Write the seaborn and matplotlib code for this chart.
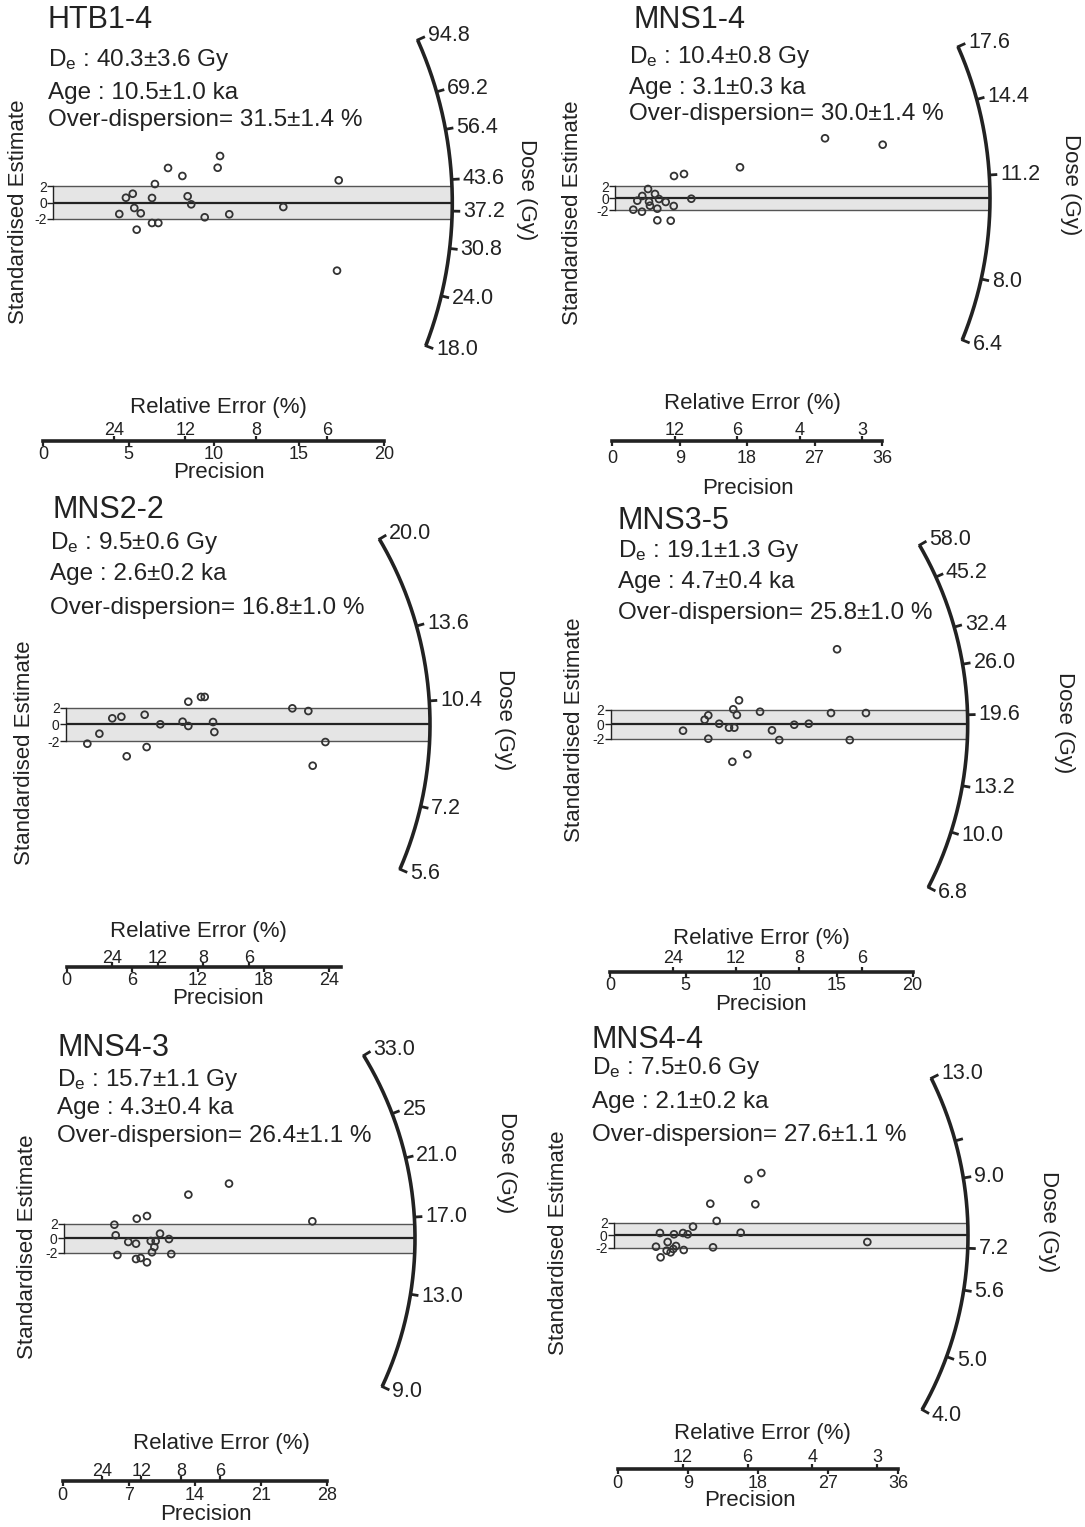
from matplotlib import pyplot as plt
import seaborn as sns
import pandas as pd
import numpy as np

# figure size in pixels, saved at dpi 100
FIG_W, FIG_H = 1085, 1527
INK = "#222222"

# ---------------- data ----------------
# precision (=100/relative error %) and standardised estimate of every aliquot

htb14_precision = [3.87, 4.26, 4.66, 4.75, 4.89, 5.13, 5.79, 5.79, 5.96, 6.16, 6.73,
				   7.57, 7.88, 8.09, 8.88, 9.64, 9.78, 10.32, 13.49, 16.74, 16.64]
htb14_z = [-1.39, 0.61, 1.10, -0.65, -3.31, -1.30, 0.58, -2.49, 2.29, -2.49, 4.26,
		   3.28, 0.79, -0.20, -1.79, 4.29, 5.73, -1.42, -0.53, 2.75, -8.34]
htb14_dose_ticks = [94.8, 69.2, 56.4, 43.6, 37.2, 30.8, 24.0, 18.0]
htb14_dose_labels = ["94.8", "69.2", "56.4", "43.6", "37.2", "30.8", "24.0", "18.0"]
htb14_central_dose = 38.8
htb14_precision_ticks = [0, 5, 10, 15, 20]
htb14_rel_error_ticks = [24, 12, 8, 6]
htb14_stats = ["40.3±3.6 Gy", "10.5±1.0 ka", "31.5±1.4 %"]

mns14_precision = [28.04, 35.74, 16.69, 7.88, 9.21, 4.41, 3.64, 2.98, 5.34, 5.87,
				   4.54, 4.67, 6.77, 7.84, 5.65, 2.44, 3.60, 10.19, 5.65, 7.44]
mns14_z = [10.12, 9.04, 5.23, 3.76, 4.10, 1.57, 0.39, -0.40, 0.73, -0.12,
		   -0.57, -1.25, -0.62, -1.30, -1.75, -1.92, -2.26, -0.07, -3.71, -3.78]
mns14_dose_ticks = [17.6, 14.4, 11.2, 8.0, 6.4]
mns14_dose_labels = ["17.6", "14.4", "11.2", "8.0", "6.4"]
mns14_central_dose = 10.4
mns14_precision_ticks = [0, 9, 18, 27, 36]
mns14_rel_error_ticks = [12, 6, 4, 3]
mns14_stats = ["10.4±0.8 Gy", "3.1±0.3 ka", "30.0±1.4 %"]

mns22_precision = [1.95, 3.05, 4.23, 5.06, 5.55, 7.19, 7.37, 8.62, 10.66, 11.18,
				   11.18, 12.34, 12.68, 13.44, 13.56, 20.69, 22.15, 23.71, 22.55]
mns22_z = [-2.31, -1.12, 0.71, 0.90, -3.81, 1.14, -2.71, 0.0, 0.31, 2.69,
		   -0.20, 3.26, 3.26, 0.27, -0.92, 1.90, 1.58, -2.11, -4.93]
mns22_dose_ticks = [20.0, 13.6, 10.4, 7.2, 5.6]
mns22_dose_labels = ["20.0", "13.6", "10.4", "7.2", "5.6"]
mns22_central_dose = 9.6
mns22_precision_ticks = [0, 6, 12, 18, 24]
mns22_rel_error_ticks = [24, 12, 8, 6]
mns22_stats = ["9.5±0.6 Gy", "2.6±0.2 ka", "16.8±1.0 %"]

mns35_precision = [14.96, 8.48, 8.10, 9.87, 6.45, 6.21, 8.34, 7.17, 7.82, 8.17, 4.78,
				   10.66, 12.13, 13.09, 14.56, 16.87, 6.45, 11.14, 15.80, 9.03, 8.04]
mns35_z = [10.45, 3.34, 2.09, 1.75, 1.25, 0.64, 1.30, 0.08, -0.47, -0.47, -0.89,
		   -0.84, -0.06, 0.08, 1.57, 1.57, -2.01, -2.19, -2.19, -4.18, -5.22]
mns35_dose_ticks = [58.0, 45.2, 32.4, 26.0, 19.6, 13.2, 10.0, 6.8]
mns35_dose_labels = ["58.0", "45.2", "32.4", "26.0", "19.6", "13.2", "10.0", "6.8"]
mns35_central_dose = 18.6
mns35_precision_ticks = [0, 5, 10, 15, 20]
mns35_rel_error_ticks = [24, 12, 8, 6]
mns35_stats = ["19.1±1.3 Gy", "4.7±0.4 ka", "25.8±1.0 %"]

mns43_precision = [17.46, 13.16, 8.78, 7.70, 5.33, 26.28, 5.47, 10.16, 6.80, 7.62,
				   9.18, 9.70, 11.11, 9.56, 9.31, 5.65, 11.35, 7.62, 8.11, 8.78]
mns43_z = [7.44, 5.94, 3.03, 2.67, 1.85, 2.31, 0.41, 0.63, -0.50, -0.73,
		   -0.37, -0.37, -0.10, -1.18, -1.90, -2.27, -2.14, -2.82, -2.68, -3.27]
mns43_dose_ticks = [33.0, 25.0, 21.0, 17.0, 13.0, 9.0]
mns43_dose_labels = ["33.0", "25", "21.0", "17.0", "13.0", "9.0"]
mns43_central_dose = 15.8
mns43_precision_ticks = [0, 7, 14, 21, 28]
mns43_rel_error_ticks = [24, 12, 8, 6]
mns43_stats = ["15.7±1.1 Gy", "4.3±0.4 ka", "26.4±1.1 %"]

mns44_precision = [18.91, 17.24, 12.36, 18.14, 13.18, 10.14, 5.90, 7.70, 8.86, 9.46, 16.26,
				   6.89, 5.39, 7.96, 7.61, 6.76, 7.27, 8.95, 12.71, 5.98, 32.52]
mns44_z = [9.84, 8.85, 4.99, 4.90, 2.27, 1.37, 0.36, 0.16, 0.36, 0.16, 0.41,
		   -1.06, -1.80, -1.69, -2.16, -2.43, -2.69, -2.32, -1.90, -3.48, -1.06]
# the tick between 13.0 and 9.0 carries no label in the original
mns44_dose_ticks = [13.0, 10.2, 9.0, 7.2, 6.3, 5.0, 4.0]
mns44_dose_labels = ["13.0", "", "9.0", "7.2", "5.6", "5.0", "4.0"]
mns44_central_dose = 7.5
mns44_precision_ticks = [0, 9, 18, 27, 36]
mns44_rel_error_ticks = [12, 6, 4, 3]
mns44_stats = ["7.5±0.6 Gy", "2.1±0.2 ka", "27.6±1.1 %"]

# ---------------- layout (pixels of the 1085x1527 canvas) ----------------
# ox, oy: origin of radial plot; sx, sy: px per unit; R: arc radius; k: arc scale
# ppad / rpad: label pads of the precision and relative error ticks
layouts = {
	"HTB1-4": dict(ox=53.3, oy=202.7, sx=17.05, sy=8.15, R=399, k=0.50,
				   bx=43.3, by=441, bmax=20, ppad=0, rpad=-2,
				   title=(48, 20), stats=(48, 60, 93, 120), ylab=(19, 212), dlab=(527, 190),
				   relab=(218, 408), plab=(219, 473)),
	"MNS1-4": dict(ox=615, oy=198.3, sx=7.49, sy=5.93, R=375, k=0.84,
				   bx=612.3, by=441, bmax=36, ppad=3, rpad=-2,
				   title=(633, 20), stats=(629, 57, 88, 114), ylab=(572, 213), dlab=(1070, 185),
				   relab=(752, 403), plab=(748, 489)),
	"MNS2-2": dict(ox=66, oy=724.3, sx=10.94, sy=8.4, R=364, k=0.805,
				   bx=66.7, by=967.3, bmax=25.1, ppad=0, rpad=-3.2,
				   title=(52, 510), stats=(50, 543, 574, 608), ylab=(25, 753), dlab=(505, 720),
				   relab=(198, 932), plab=(218, 999)),
	"MNS3-5": dict(ox=610.7, oy=724.3, sx=15.13, sy=7.18, R=357, k=0.51,
				   bx=610, by=971.7, bmax=20, ppad=0, rpad=-0.5,
				   title=(618, 521), stats=(618, 551, 582, 613), ylab=(574, 730), dlab=(1065, 723),
				   relab=(761, 938), plab=(761, 1004)),
	"MNS4-3": dict(ox=64, oy=1238.3, sx=9.45, sy=7.35, R=351, k=0.828,
				   bx=62.7, by=1481, bmax=28, ppad=0.7, rpad=-2.7,
				   title=(57, 1048), stats=(57, 1080, 1108, 1136), ylab=(28, 1247), dlab=(507, 1163),
				   relab=(221, 1443), plab=(206, 1514)),
	"MNS4-4": dict(ox=614, oy=1235.3, sx=7.79, sy=6.33, R=354, k=0.90,
				   bx=617.7, by=1469.3, bmax=36, ppad=0.7, rpad=-1.3,
				   title=(592, 1040), stats=(592, 1068, 1102, 1135), ylab=(559, 1243), dlab=(1048, 1222),
				   relab=(762, 1433), plab=(750, 1501)),
}


def fx(x):
	return x / FIG_W


def fy(y):
	return 1 - y / FIG_H


def draw_panel(fig, name, precision, z, dose_ticks, dose_labels, d0, prec_ticks, re_ticks, stats):
	lay = layouts[name]
	ox, oy, sx, sy, R, k = lay["ox"], lay["oy"], lay["sx"], lay["sy"], lay["R"], lay["k"]

	# radial plot axes: x = precision, y = standardised estimate
	ax = fig.add_axes([fx(ox), fy(oy + R), R / FIG_W, 2 * R / FIG_H])
	ax.set_xlim(0, R / sx)
	ax.set_ylim(-R / sy, R / sy)
	ax.patch.set_alpha(0)

	# +-2 band, reaching the arc
	x_band = np.sqrt(R ** 2 - (2 * sy) ** 2) / sx
	ax.fill_between([0, x_band], -2, 2, color="#e5e5e5", lw=0, zorder=0)
	ax.hlines([-2, 2], 0, x_band, color="#555555", lw=1.0, zorder=1)
	ax.hlines(0, 0, R / sx, color=INK, lw=1.6, zorder=1)

	df = pd.DataFrame({"precision": precision, "z": z})
	sns.scatterplot(data=df, x="precision", y="z", ax=ax, color="#333333", s=24,
					linewidth=1.3, legend=False, zorder=5)
	pts = ax.collections[-1]
	pts.set_facecolor("none")
	pts.set_edgecolor("#333333")

	for side in ["top", "right", "bottom"]:
		ax.spines[side].set_visible(False)
	ax.spines["left"].set_bounds(-2, 2)
	ax.spines["left"].set_color(INK)
	ax.spines["left"].set_linewidth(1.0)
	ax.set_xticks([])
	ax.set_yticks([-2, 0, 2])
	ax.set_yticklabels(["-2", "0", "2"])
	ax.tick_params(axis="y", direction="out", length=4, width=1.0, labelsize=10,
				   pad=0.5, colors=INK, left=True)
	ax.set_xlabel("")
	ax.set_ylabel("")

	# dose arc with log-dose ticks
	ang = np.arctan(k * np.log(np.array(dose_ticks) / d0))
	phi = np.linspace(ang.min(), ang.max(), 200)
	ax.plot(R * np.cos(phi) / sx, R * np.sin(phi) / sy, color=INK, lw=2.6,
			clip_on=False, solid_capstyle="butt")
	for a, lab in zip(ang, dose_labels):
		r_in, r_out = R - 1, R + 8
		ax.plot([r_in * np.cos(a) / sx, r_out * np.cos(a) / sx],
				[r_in * np.sin(a) / sy, r_out * np.sin(a) / sy],
				color=INK, lw=2.0, clip_on=False, solid_capstyle="butt")
		if lab:
			ax.text((r_out + 3) * np.cos(a) / sx, (r_out + 3) * np.sin(a) / sy, lab,
					ha="left", va="center", fontsize=15.5, color=INK)

	# precision / relative error scale
	bax = fig.add_axes([fx(lay["bx"]), fy(lay["by"]), lay["bmax"] * sx / FIG_W, 0.0001])
	bax.set_xlim(0, lay["bmax"])
	bax.set_yticks([])
	bax.patch.set_alpha(0)
	for side in ["top", "left", "right"]:
		bax.spines[side].set_visible(False)
	bax.spines["bottom"].set_linewidth(2.6)
	bax.spines["bottom"].set_color(INK)
	bax.set_xticks(prec_ticks)
	bax.set_xticklabels([str(t) for t in prec_ticks])
	bax.tick_params(axis="x", direction="out", length=3.5, width=1.6, labelsize=13,
					pad=lay["ppad"], colors=INK)

	tax = bax.twiny()
	tax.set_xlim(0, lay["bmax"])
	tax.set_yticks([])
	for side in ["top", "left", "right", "bottom"]:
		tax.spines[side].set_visible(False)
	tax.set_xticks(100.0 / np.array(re_ticks))
	tax.set_xticklabels([str(t) for t in re_ticks])
	tax.tick_params(axis="x", direction="out", length=3.5, width=1.6, labelsize=13,
					pad=lay["rpad"], colors=INK)

	# texts
	tx, ty = lay["title"]
	fig.text(fx(tx), fy(ty), name, ha="left", va="center", fontsize=22, color=INK)
	sx0, y1, y2, y3 = lay["stats"]
	fig.text(fx(sx0), fy(y1), r"D$_{\mathrm{e}}$ : " + stats[0], ha="left", va="center",
			 fontsize=17.5, color=INK)
	fig.text(fx(sx0), fy(y2), "Age : " + stats[1], ha="left", va="center", fontsize=17.5, color=INK)
	fig.text(fx(sx0), fy(y3), "Over-dispersion= " + stats[2], ha="left", va="center",
			 fontsize=17.5, color=INK)
	fig.text(fx(lay["ylab"][0]), fy(lay["ylab"][1]), "Standardised Estimate", rotation=90,
			 ha="center", va="center", fontsize=16, color=INK)
	fig.text(fx(lay["dlab"][0]), fy(lay["dlab"][1]), "Dose (Gy)", rotation=270,
			 ha="center", va="center", fontsize=16, color=INK)
	fig.text(fx(lay["relab"][0]), fy(lay["relab"][1]), "Relative Error (%)",
			 ha="center", va="center", fontsize=16, color=INK)
	fig.text(fx(lay["plab"][0]), fy(lay["plab"][1]), "Precision",
			 ha="center", va="center", fontsize=16, color=INK)


sns.set_theme(style="white")
plt.rcParams["font.family"] = ["Liberation Sans", "DejaVu Sans"]
plt.rcParams["mathtext.fontset"] = "custom"
plt.rcParams["mathtext.rm"] = "Liberation Sans"
plt.rcParams["mathtext.it"] = "Liberation Sans:italic"

fig = plt.figure(figsize=(FIG_W / 100, FIG_H / 100), dpi=100)
fig.patch.set_facecolor("white")

draw_panel(fig, "HTB1-4", htb14_precision, htb14_z, htb14_dose_ticks, htb14_dose_labels,
		   htb14_central_dose, htb14_precision_ticks, htb14_rel_error_ticks, htb14_stats)
draw_panel(fig, "MNS1-4", mns14_precision, mns14_z, mns14_dose_ticks, mns14_dose_labels,
		   mns14_central_dose, mns14_precision_ticks, mns14_rel_error_ticks, mns14_stats)
draw_panel(fig, "MNS2-2", mns22_precision, mns22_z, mns22_dose_ticks, mns22_dose_labels,
		   mns22_central_dose, mns22_precision_ticks, mns22_rel_error_ticks, mns22_stats)
draw_panel(fig, "MNS3-5", mns35_precision, mns35_z, mns35_dose_ticks, mns35_dose_labels,
		   mns35_central_dose, mns35_precision_ticks, mns35_rel_error_ticks, mns35_stats)
draw_panel(fig, "MNS4-3", mns43_precision, mns43_z, mns43_dose_ticks, mns43_dose_labels,
		   mns43_central_dose, mns43_precision_ticks, mns43_rel_error_ticks, mns43_stats)
draw_panel(fig, "MNS4-4", mns44_precision, mns44_z, mns44_dose_ticks, mns44_dose_labels,
		   mns44_central_dose, mns44_precision_ticks, mns44_rel_error_ticks, mns44_stats)

plt.savefig("out.png", dpi=100)
